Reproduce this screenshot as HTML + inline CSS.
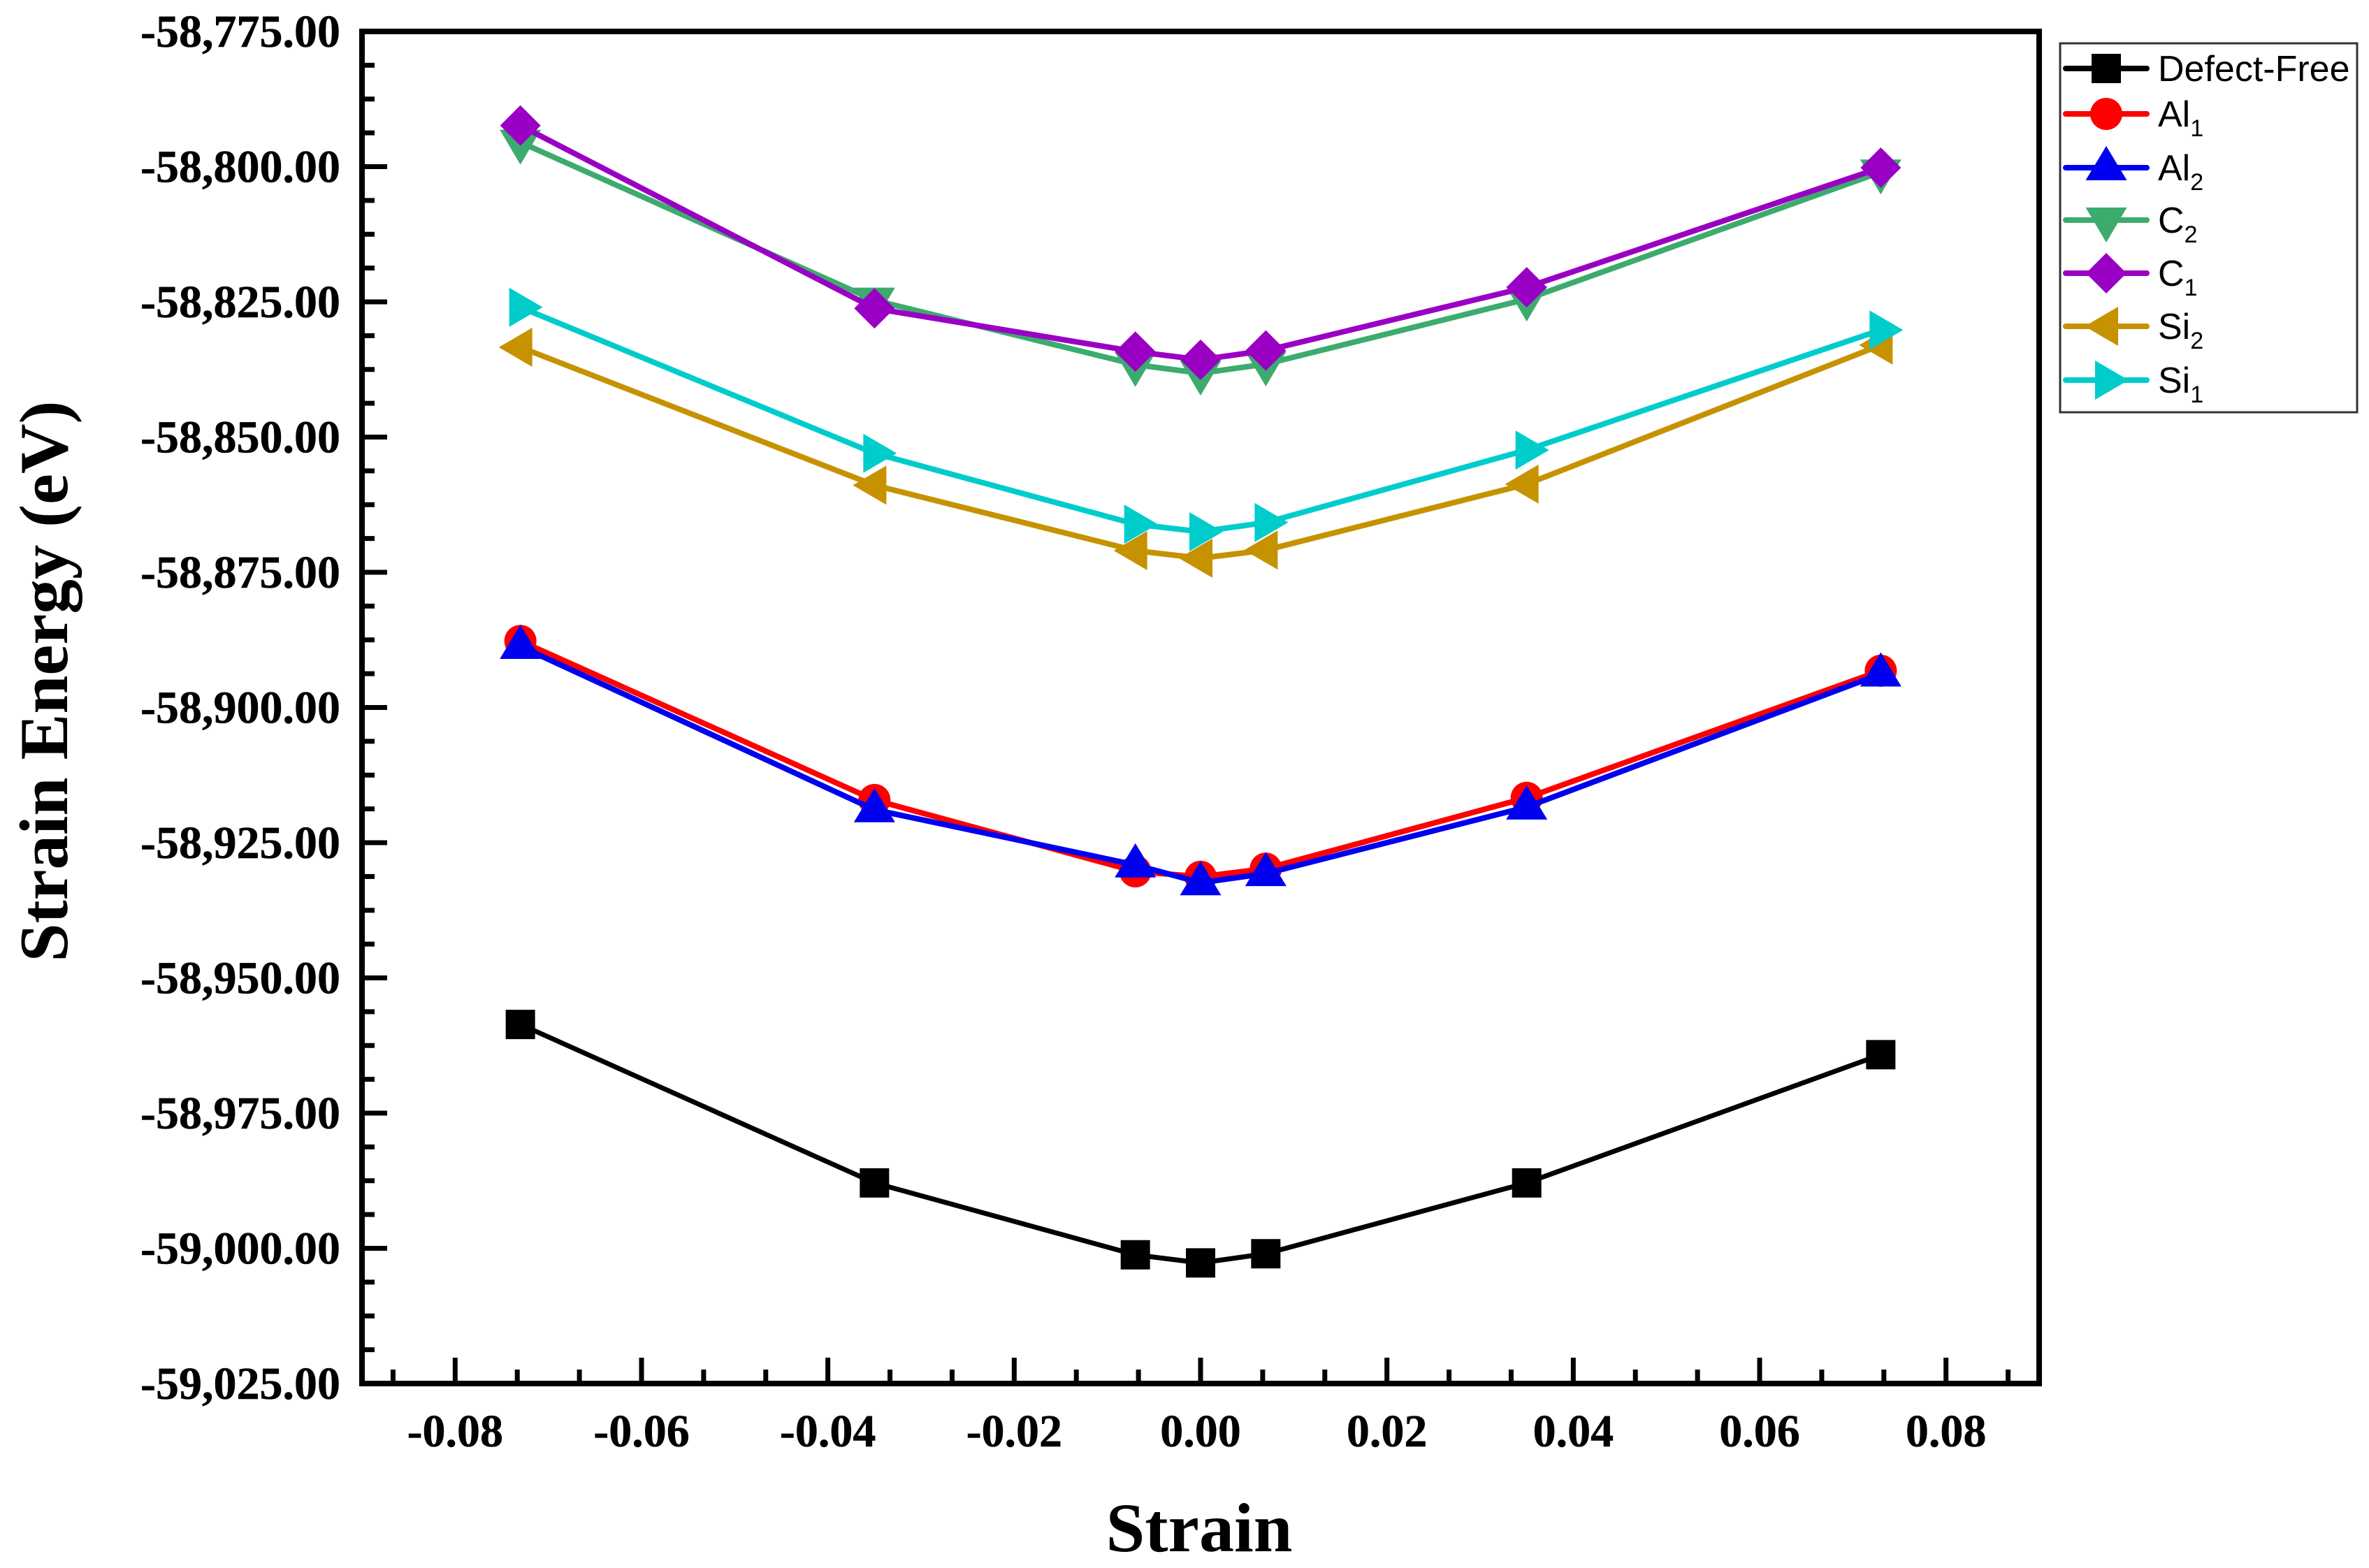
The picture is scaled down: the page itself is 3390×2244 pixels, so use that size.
<!DOCTYPE html>
<html lang="en">
<head>
<meta charset="utf-8">
<title>Strain Energy vs Strain</title>
<style>
html,body{margin:0;padding:0;background:#fff;}
svg{display:block;}
.tick-label{font-family:"Liberation Serif",serif;font-weight:bold;font-size:66px;fill:#000;stroke:#000;stroke-width:0.5px;}
.axis-title{font-family:"Liberation Serif",serif;font-weight:bold;fill:#000;}
.legend-text{font-family:"Liberation Sans",sans-serif;font-size:52px;fill:#000;}
.legend-sub{font-family:"Liberation Sans",sans-serif;font-size:34px;fill:#000;}
</style>
</head>
<body>
<svg id="chart" xmlns="http://www.w3.org/2000/svg" width="3390" height="2244" viewBox="0 0 3390 2244">
  <rect x="0" y="0" width="3390" height="2244" fill="#fff"/>
  <g id="ticks"></g>
  <g id="labels"></g>
  <g id="series"></g>
  <rect x="518" y="45" width="2400" height="1935" fill="none" stroke="#000" stroke-width="8"/>
  <text class="axis-title" font-size="100" x="1716" y="2220" text-anchor="middle">Strain</text>
  <text class="axis-title" font-size="99" transform="translate(96 975) rotate(-90)" text-anchor="middle">Strain Energy (eV)</text>
  <g id="legend">
    <rect x="2948" y="62" width="425" height="528" fill="#fff" stroke="#333" stroke-width="3"/>
  </g>
</svg>
<script>
const strain = [-0.073, -0.035, -0.007, 0, 0.007, 0.035, 0.073];
const defectFree = [-58958.6, -58987.9, -59001.2, -59002.7, -59001.0, -58987.9, -58964.2];
const al1 = [-58887.7, -58917.1, -58930.3, -58931.3, -58929.8, -58916.7, -58893.2];
const al2 = [-58888.7, -58918.9, -58929.1, -58932.4, -58930.7, -58918.4, -58893.8];
const c2 = [-58795.5, -58824.7, -58836.6, -58838.2, -58836.5, -58824.5, -58801.0];
const c1 = [-58792.4, -58826.2, -58834.2, -58835.7, -58834.0, -58822.3, -58800.2];
const si2 = [-58833.4, -58858.9, -58871.0, -58872.4, -58870.9, -58858.7, -58833.0];
const si1 = [-58826.0, -58853.0, -58866.1, -58867.5, -58865.8, -58852.4, -58830.2];

const xTickValues = [-0.08, -0.06, -0.04, -0.02, 0, 0.02, 0.04, 0.06, 0.08];
const xTickLabels = ['-0.08', '-0.06', '-0.04', '-0.02', '0.00', '0.02', '0.04', '0.06', '0.08'];
const yTickValues = [-58775, -58800, -58825, -58850, -58875, -58900, -58925, -58950, -58975, -59000, -59025];
const yTickLabels = ['-58,775.00', '-58,800.00', '-58,825.00', '-58,850.00', '-58,875.00', '-58,900.00', '-58,925.00', '-58,950.00', '-58,975.00', '-59,000.00', '-59,025.00'];

const seriesNames = ['defect-free', 'al1', 'al2', 'c2', 'c1', 'si2', 'si1'];
const seriesValues = [defectFree, al1, al2, c2, c1, si2, si1];
const seriesColors = ['#000000', '#ff0000', '#0000f0', '#3cab6e', '#9a00c4', '#c69200', '#00cccc'];
const seriesShapes = ['square', 'circle', 'up', 'down', 'diamond', 'left', 'right'];
const legendBase = ['Defect-Free', 'Al', 'Al', 'C', 'C', 'Si', 'Si'];
const legendSubs = ['', '1', '2', '2', '1', '2', '1'];

const NS = 'http://www.w3.org/2000/svg';
const PLOT = {left: 518, right: 2918, top: 45, bottom: 1980, xMin: -0.09, xMax: 0.09, yMax: -58775, yMin: -59025};
function xPos(v) { return PLOT.left + (v - PLOT.xMin) / (PLOT.xMax - PLOT.xMin) * (PLOT.right - PLOT.left); }
function yPos(v) { return PLOT.top + (PLOT.yMax - v) / (PLOT.yMax - PLOT.yMin) * (PLOT.bottom - PLOT.top); }

function shapeGeometry(shape, cx, cy) {
  const pts = {
    up: [[0, -31], [29.5, 18], [-29.5, 18]],
    down: [[0, 32], [29.5, -18], [-29.5, -18]],
    left: [[-31, 0], [17, -28], [17, 28]],
    right: [[32, 0], [-16, -28], [-16, 28]],
    diamond: [[0, -29], [29, 0], [0, 29], [-29, 0]],
    square: [[-21, -21], [21, -21], [21, 21], [-21, 21]]
  }[shape];
  return pts.map(function (p) { return (cx + p[0]) + ',' + (cy + p[1]); }).join(' ');
}
function drawMarker(parent, shape, cx, cy, color, name) {
  let el;
  if (shape === 'circle') {
    el = document.createElementNS(NS, 'circle');
    el.setAttribute('cx', cx);
    el.setAttribute('cy', cy);
    el.setAttribute('r', 23);
  } else {
    el = document.createElementNS(NS, 'polygon');
    el.setAttribute('points', shapeGeometry(shape, cx, cy));
  }
  el.setAttribute('fill', color);
  
  
  parent.appendChild(el);
}
function drawTick(parent, x1, y1, x2, y2, name) {
  const t = document.createElementNS(NS, 'line');
  t.setAttribute('x1', x1);
  t.setAttribute('y1', y1);
  t.setAttribute('x2', x2);
  t.setAttribute('y2', y2);
  t.setAttribute('stroke', '#000');
  t.setAttribute('stroke-width', 7);
  
  
  parent.appendChild(t);
}

const ticksG = document.getElementById('ticks');
const labelsG = document.getElementById('labels');

xTickValues.forEach(function (v, i) {
  drawTick(ticksG, xPos(v), PLOT.bottom, xPos(v), PLOT.bottom - 37, 'x-major-tick');
  const label = document.createElementNS(NS, 'text');
  label.setAttribute('x', xPos(v));
  label.setAttribute('y', 2070);
  label.setAttribute('text-anchor', 'middle');
  label.setAttribute('class', 'tick-label');
  
  
  label.textContent = xTickLabels[i];
  labelsG.appendChild(label);
});
const xStep = (xTickValues[1] - xTickValues[0]) / 3;
for (let v = xTickValues[0] - xStep; v < PLOT.xMax; v += xStep) {
  const k = Math.round((v - xTickValues[0]) / xStep);
  if (k % 3 !== 0) drawTick(ticksG, xPos(v), PLOT.bottom, xPos(v), PLOT.bottom - 20, 'x-minor-tick');
}
yTickValues.forEach(function (v, i) {
  if (i > 0 && i < yTickValues.length - 1) drawTick(ticksG, PLOT.left, yPos(v), PLOT.left + 36, yPos(v), 'y-major-tick');
  const label = document.createElementNS(NS, 'text');
  label.setAttribute('x', 487);
  label.setAttribute('y', yPos(v) + 22);
  label.setAttribute('text-anchor', 'end');
  label.setAttribute('class', 'tick-label');
  
  
  label.textContent = yTickLabels[i];
  labelsG.appendChild(label);
});
const yStep = (yTickValues[0] - yTickValues[1]) / 4;
for (let v = yTickValues[0]; v > PLOT.yMin; v -= yStep) {
  const k = Math.round((yTickValues[0] - v) / yStep);
  if (k % 4 !== 0) drawTick(ticksG, PLOT.left, yPos(v), PLOT.left + 18, yPos(v), 'y-minor-tick');
}

const seriesG = document.getElementById('series');
seriesValues.forEach(function (values, s) {
  const g = document.createElementNS(NS, 'g');
  
  
  seriesG.appendChild(g);
  const line = document.createElementNS(NS, 'polyline');
  line.setAttribute('points', values.map(function (v, i) { return xPos(strain[i]) + ',' + yPos(v); }).join(' '));
  line.setAttribute('fill', 'none');
  line.setAttribute('stroke', seriesColors[s]);
  line.setAttribute('stroke-width', s === 0 ? 7 : 8);
  line.setAttribute('stroke-linejoin', 'round');
  
  
  g.appendChild(line);
  values.forEach(function (v, i) {
    drawMarker(g, seriesShapes[s], xPos(strain[i]), yPos(v), seriesColors[s], 'point-' + seriesNames[s]);
  });
});

const legendG = document.getElementById('legend');
const legendRowY = [98, 163, 240, 315, 391, 467, 544];
seriesNames.forEach(function (n, s) {
  const y = legendRowY[s];
  const g = document.createElementNS(NS, 'g');
  
  
  legendG.appendChild(g);
  const sw = document.createElementNS(NS, 'line');
  sw.setAttribute('x1', 2956);
  sw.setAttribute('x2', 3072);
  sw.setAttribute('y1', y);
  sw.setAttribute('y2', y);
  sw.setAttribute('stroke', seriesColors[s]);
  sw.setAttribute('stroke-width', 8);
  sw.setAttribute('stroke-linecap', 'round');
  
  
  g.appendChild(sw);
  drawMarker(g, seriesShapes[s], 3014, y, seriesColors[s], 'legend-marker');
  const text = document.createElementNS(NS, 'text');
  text.setAttribute('x', 3088);
  text.setAttribute('y', y + 18);
  text.setAttribute('class', 'legend-text');
  
  
  text.textContent = legendBase[s];
  g.appendChild(text);
  if (legendSubs[s]) {
    const sub = document.createElementNS(NS, 'tspan');
    sub.setAttribute('class', 'legend-sub');
    sub.setAttribute('dy', 14);
    
    
    sub.textContent = legendSubs[s];
    text.appendChild(sub);
  }
});
</script>
</body>
</html>
